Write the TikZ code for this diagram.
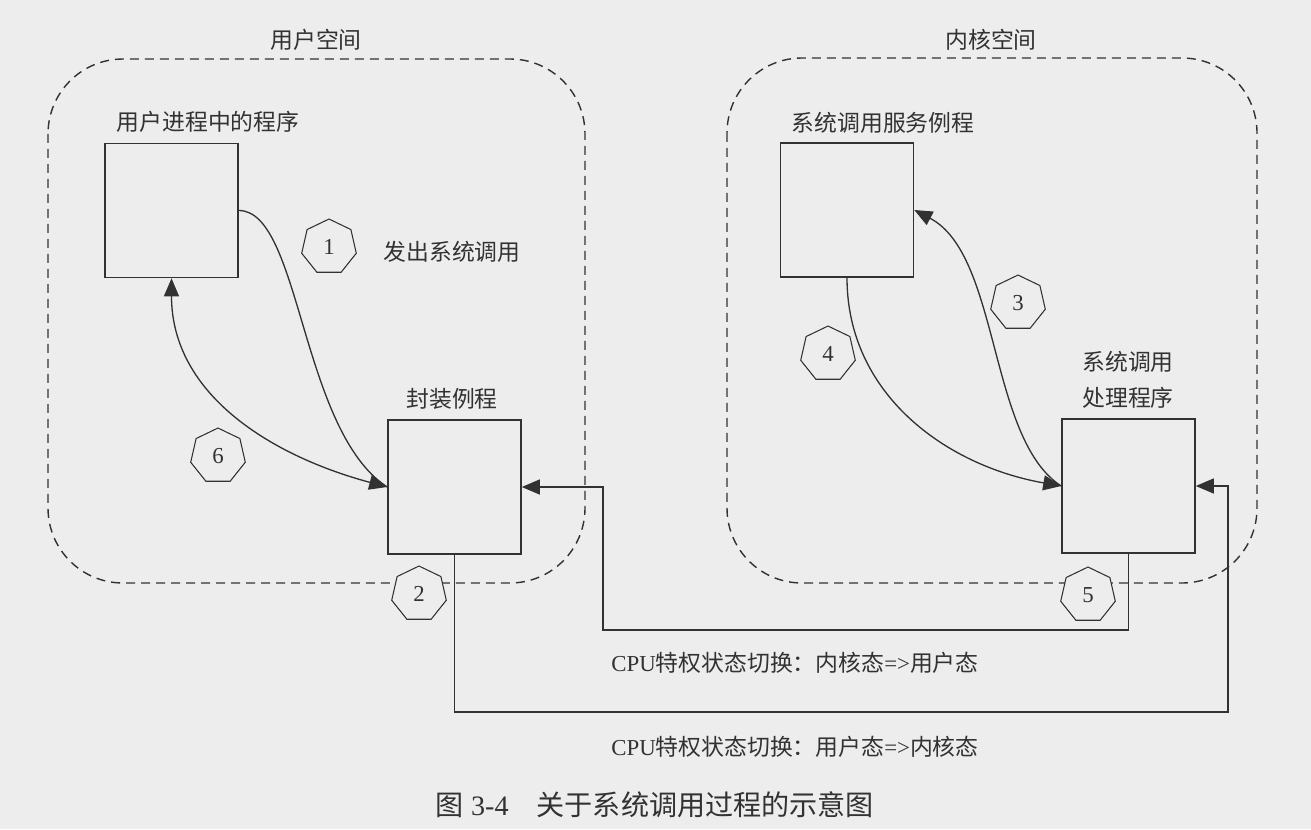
\documentclass[tikz,border=0pt]{standalone}
\usepackage{fontspec}
\setmainfont{Liberation Serif}
\newfontfamily\cjk{Noto Sans CJK SC}
\usetikzlibrary{shapes.geometric,arrows.meta}
\definecolor{pagegray}{RGB}{237,237,237}
\definecolor{inkgray}{RGB}{50,50,50}
\tikzset{
  procbox/.style={draw=inkgray,line width=0.9pt,minimum width=2.66cm,minimum height=2.68cm,inner sep=0pt},
  stepnum/.style={draw=inkgray,fill=pagegray,line width=0.6pt,regular polygon,regular polygon sides=7,
    minimum size=1.12cm,inner sep=0pt,text=inkgray,font=\fontsize{13pt}{15.6pt}\selectfont},
  spacebox/.style={draw=inkgray,line width=0.8pt,dash pattern=on 0.18cm off 0.12cm,rounded corners=1.5cm},
  link/.style={draw=inkgray,line width=0.75pt},
  txt/.style={text=inkgray,inner sep=0pt,font=\fontsize{13pt}{15.6pt}\selectfont},
  lbl/.style={text=inkgray,inner sep=0pt,font=\fontsize{13pt}{15.6pt}\selectfont\cjk}
}
\begin{document}
\begin{tikzpicture}[x=0.02cm,y=0.02cm,>={Triangle[length=3.6mm,width=3mm]}]
\fill[pagegray] (0,0) rectangle (1311,-829);
\useasboundingbox (0,0) rectangle (1311,-829);

% user space and kernel space
\draw[spacebox] (48,-59) rectangle (585,-583);
\draw[spacebox] (727,-58) rectangle (1257,-583);
\node[lbl] (userspace) at (316,-40) {用户空间};
\node[lbl] (kernelspace) at (991,-40) {内核空间};

% the four routines
\node[procbox] (prog) at (171.5,-210.5) {};
\node[procbox] (wrap) at (454.5,-487) {};
\node[procbox] (service) at (847,-210) {};
\node[procbox] (handler) at (1128.5,-486) {};
\node[lbl] (proglbl) at (208,-122) {用户进程中的程序};
\node[lbl] (wraplbl) at (452,-399) {封装例程};
\node[lbl] (servicelbl) at (883,-123) {系统调用服务例程};
\node[lbl,align=center] (handlerlbl) at (1128,-380) {系统调用\\[4.8pt]处理程序};
\node[lbl] (calllbl) at (452,-252) {发出系统调用};

% calls inside each space
\draw[link] (prog.east) .. controls +(62,0) and +(-87,57) .. (wrap.west);
\draw[link,<->] (wrap.west) to[out=165,in=-90] (prog.south);
\draw[link,->] (service.south) to[out=-90,in=170] (handler.west);
\draw[link,->] (handler.west) .. controls +(-73,47) and +(86,-45) .. (service.east);

% privilege switches
\coordinate (k2u) at (603,-630);
\coordinate (u2k) at (1228,-712);
\draw[link,->] (handler.south) |- (k2u) |- (wrap.east);
\draw[link,->] (wrap.south) |- (u2k) |- (handler.east);
\node[txt] (k2ulbl) at (795,-663) {CPU{\cjk 特权状态切换：内核态}=>{\cjk 用户态}};
\node[txt] (u2klbl) at (795,-747) {CPU{\cjk 特权状态切换：用户态}=>{\cjk 内核态}};

% step numbers
\node[stepnum] (n1) at (329,-247) {1};
\node[stepnum] (n2) at (419,-594) {2};
\node[stepnum] (n3) at (1018,-303) {3};
\node[stepnum] (n4) at (828,-354) {4};
\node[stepnum] (n5) at (1088,-595) {5};
\node[stepnum] (n6) at (218,-456) {6};

\node[txt,font=\fontsize{16pt}{19pt}\selectfont] (caption) at (655,-805) {{\cjk 图} 3-4\quad{\cjk 关于系统调用过程的示意图}};
\end{tikzpicture}
\end{document}
